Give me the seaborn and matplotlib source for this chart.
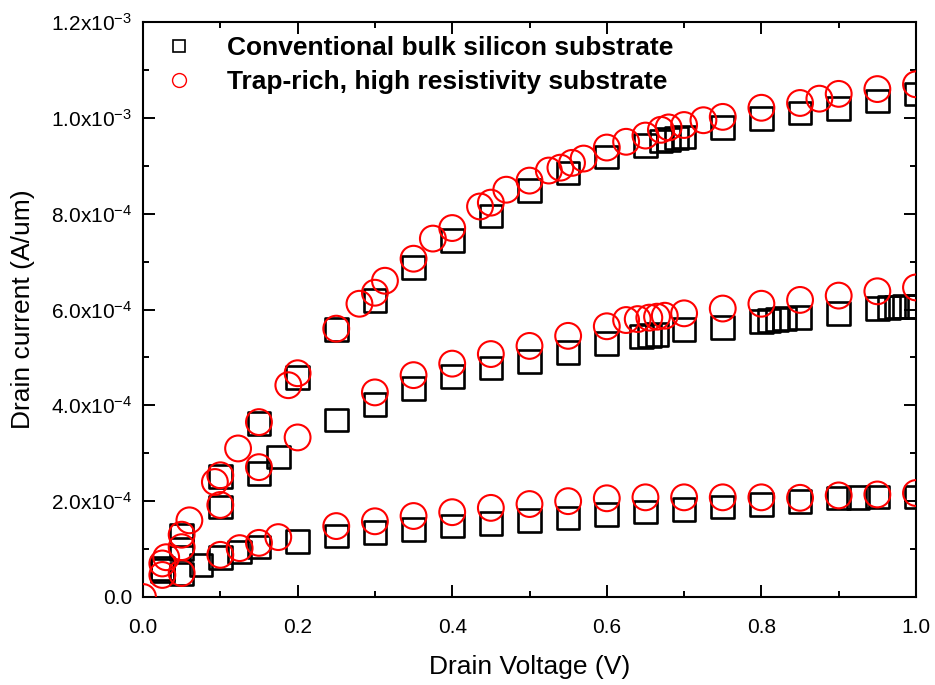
import numpy as np
import pandas as pd
import matplotlib
matplotlib.use("Agg")
import matplotlib.pyplot as plt
from matplotlib.lines import Line2D
import seaborn as sns

# Drain current in units of 1e-4 A/um, three gate-bias curves per substrate
conv_low_v = [0.025, 0.05, 0.075, 0.1, 0.125, 0.15, 0.2, 0.25, 0.3, 0.35, 0.4, 0.45, 0.5,
              0.55, 0.6, 0.65, 0.7, 0.75, 0.8, 0.85, 0.9, 0.925, 0.95, 1.0]
conv_low_i = [0.55, 0.48, 0.67, 0.82, 0.94, 1.04, 1.16, 1.27, 1.34, 1.41, 1.48, 1.54, 1.60,
              1.65, 1.72, 1.77, 1.83, 1.88, 1.93, 1.99, 2.07, 2.08, 2.09, 2.09]

trap_low_v = [0.0, 0.025, 0.05, 0.1, 0.125, 0.15, 0.175, 0.25, 0.3, 0.35, 0.4, 0.45, 0.5,
              0.55, 0.6, 0.65, 0.7, 0.75, 0.8, 0.85, 0.9, 0.95, 1.0]
trap_low_i = [0.0, 0.46, 0.50, 0.88, 1.02, 1.13, 1.25, 1.48, 1.58, 1.69, 1.77, 1.86, 1.94,
              2.00, 2.06, 2.08, 2.08, 2.08, 2.08, 2.07, 2.12, 2.14, 2.17]

conv_mid_v = [0.025, 0.05, 0.1, 0.15, 0.175, 0.25, 0.3, 0.35, 0.4, 0.45, 0.5, 0.55, 0.6,
              0.645, 0.655, 0.665, 0.7, 0.75, 0.8, 0.81, 0.82, 0.83, 0.85, 0.9, 0.95,
              0.965, 0.975, 0.985, 1.0]
conv_mid_i = [0.60, 1.00, 1.88, 2.58, 2.92, 3.69, 4.02, 4.35, 4.60, 4.78, 4.92, 5.10, 5.29,
              5.44, 5.46, 5.48, 5.58, 5.63, 5.75, 5.77, 5.79, 5.81, 5.83, 5.92, 6.02,
              6.04, 6.05, 6.06, 6.06]

trap_mid_v = [0.025, 0.05, 0.1, 0.15, 0.2, 0.3, 0.35, 0.4, 0.45, 0.5, 0.55, 0.6, 0.625,
              0.64, 0.655, 0.665, 0.675, 0.7, 0.75, 0.8, 0.85, 0.9, 0.95, 1.0]
trap_mid_i = [0.70, 1.04, 1.92, 2.71, 3.33, 4.27, 4.63, 4.87, 5.07, 5.24, 5.45, 5.65, 5.78,
              5.80, 5.83, 5.85, 5.87, 5.92, 6.02, 6.12, 6.20, 6.29, 6.38, 6.46]

conv_high_v = [0.05, 0.1, 0.15, 0.2, 0.25, 0.3, 0.35, 0.4, 0.45, 0.5, 0.55, 0.6, 0.65,
               0.67, 0.68, 0.69, 0.7, 0.75, 0.8, 0.85, 0.9, 0.95, 1.0]
conv_high_i = [1.29, 2.52, 3.62, 4.58, 5.58, 6.19, 6.88, 7.44, 7.95, 8.48, 8.85, 9.18, 9.42,
               9.52, 9.55, 9.58, 9.60, 9.80, 9.98, 10.10, 10.20, 10.35, 10.50]

trap_high_v = [0.03, 0.05, 0.06, 0.093, 0.1, 0.123, 0.15, 0.188, 0.2, 0.25, 0.28, 0.3,
               0.313, 0.35, 0.375, 0.4, 0.436, 0.45, 0.47, 0.5, 0.525, 0.54, 0.555, 0.57,
               0.6, 0.625, 0.65, 0.67, 0.68, 0.7, 0.725, 0.75, 0.8, 0.85, 0.875, 0.9,
               0.95, 1.0]
trap_high_i = [0.83, 1.30, 1.60, 2.40, 2.54, 3.10, 3.65, 4.42, 4.67, 5.60, 6.12, 6.35,
               6.60, 7.06, 7.48, 7.70, 8.15, 8.23, 8.50, 8.69, 8.90, 8.96, 9.06, 9.15,
               9.38, 9.50, 9.63, 9.75, 9.80, 9.85, 9.95, 10.02, 10.21, 10.31, 10.40, 10.50,
               10.60, 10.70]

substrates = ["Conventional bulk silicon substrate", "Trap-rich, high resistivity substrate"]

y_ticks = [0.0, 2e-4, 4e-4, 6e-4, 8e-4, 1.0e-3, 1.2e-3]
y_tick_labels = ["0.0", "2.0x10$^{-4}$", "4.0x10$^{-4}$", "6.0x10$^{-4}$",
                 "8.0x10$^{-4}$", "1.0x10$^{-3}$", "1.2x10$^{-3}$"]
x_ticks = [0.0, 0.2, 0.4, 0.6, 0.8, 1.0]
x_tick_labels = ["0.0", "0.2", "0.4", "0.6", "0.8", "1.0"]


def frame(v, i, substrate):
    return pd.DataFrame({"voltage": v, "current": np.asarray(i) * 1e-4,
                         "substrate": substrate})


conv = pd.concat([frame(conv_low_v, conv_low_i, substrates[0]),
                  frame(conv_mid_v, conv_mid_i, substrates[0]),
                  frame(conv_high_v, conv_high_i, substrates[0])], ignore_index=True)
trap = pd.concat([frame(trap_low_v, trap_low_i, substrates[1]),
                  frame(trap_mid_v, trap_mid_i, substrates[1]),
                  frame(trap_high_v, trap_high_i, substrates[1])], ignore_index=True)

sns.set_theme(style="ticks")
plt.rcParams["font.family"] = ["Liberation Sans", "DejaVu Sans"]
plt.rcParams["mathtext.default"] = "regular"

fig = plt.figure(figsize=(9.35, 6.85), dpi=100)
ax = fig.add_axes([143 / 935, 1 - 597 / 685, 773 / 935, 575 / 685])

sns.scatterplot(data=conv, x="voltage", y="current", marker="s", s=265,
                facecolor="none", edgecolor="black", linewidth=1.9, ax=ax, zorder=3)
sns.scatterplot(data=trap, x="voltage", y="current", marker="o", s=345,
                facecolor="none", edgecolor="#ff0000", linewidth=1.5, ax=ax, zorder=4)

ax.set_xlim(0, 1.0)
ax.set_ylim(0, 1.2e-3)
ax.set_xticks(x_ticks)
ax.set_xticklabels(x_tick_labels)
ax.set_yticks(y_ticks)
ax.set_yticklabels(y_tick_labels)
ax.set_xticks(np.arange(0.1, 1.0, 0.2), minor=True)
ax.set_yticks(np.arange(1e-4, 1.2e-3, 2e-4), minor=True)

for side in ["left", "right", "top", "bottom"]:
    ax.spines[side].set_visible(True)
    ax.spines[side].set_linewidth(1.5)
    ax.spines[side].set_color("black")

ax.tick_params(which="both", direction="in", top=True, right=True, width=1.4,
               color="black", labelsize=15, labelcolor="black")
ax.tick_params(which="major", length=8.5)
ax.tick_params(which="minor", length=4.5)
ax.tick_params(axis="x", which="major", pad=15)
ax.tick_params(axis="y", which="major", pad=8)

ax.set_xlabel("Drain Voltage (V)", fontsize=19, labelpad=13, color="black")
ax.set_ylabel("Drain current (A/um)", fontsize=19, labelpad=11, color="black")

handles = [
    Line2D([], [], linestyle="none", marker="s", markersize=9, markerfacecolor="none",
           markeredgecolor="black", markeredgewidth=1.2),
    Line2D([], [], linestyle="none", marker="o", markersize=10, markerfacecolor="none",
           markeredgecolor="#ff0000", markeredgewidth=1.0),
]
ax.legend(handles, substrates, loc="upper left", bbox_to_anchor=(0.03, 0.975),
          frameon=False, borderpad=0, borderaxespad=0, handlelength=1.0,
          handletextpad=1.3, labelspacing=0.37, labelcolor="black",
          prop={"weight": "bold", "size": 19})

fig.savefig("out.png", dpi=100, facecolor="white")
